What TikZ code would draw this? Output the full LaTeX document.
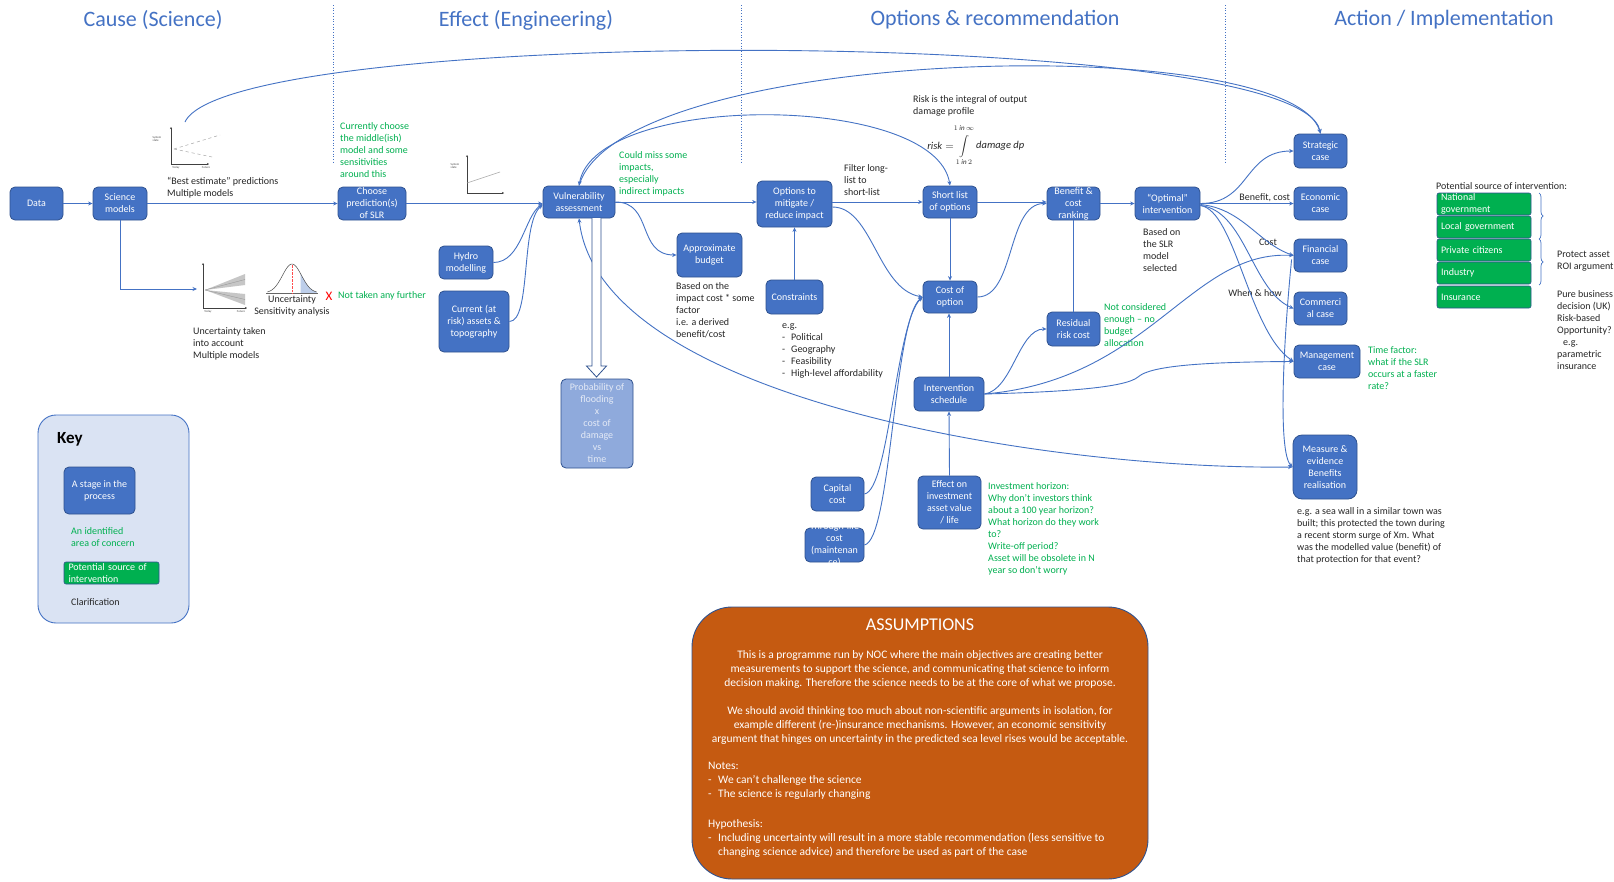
\documentclass[tikz,border=0pt]{standalone}
\usepackage{fontspec}
\setmainfont{Carlito}
\usetikzlibrary{arrows.meta,calc,decorations.pathreplacing}
\definecolor{blu}{HTML}{4472C4}
\definecolor{bord}{HTML}{2F528F}
\definecolor{grn}{HTML}{00B050}
\definecolor{txt}{HTML}{262626}
\definecolor{lblu}{HTML}{8FAADC}
\definecolor{keybg}{HTML}{DAE3F3}
\definecolor{orng}{HTML}{C55A11}
\definecolor{paletxt}{HTML}{E4EAF6}
\newcommand{\dashitem}{\makebox[9pt][l]{-}}
\newcommand{\asitem}{\makebox[10pt][l]{-}}
\tikzset{
  norm/.style={font=\fontsize{10}{12}\selectfont},
  box/.style={norm, draw=bord, fill=blu, text=white, rounded corners=5pt, line width=0.8pt, align=center, inner sep=0pt},
  probbox/.style={box, fill=lblu, text=paletxt},
  gbox/.style={draw=bord, fill=grn, rounded corners=2pt, line width=0.6pt, inner sep=0pt, minimum width=94pt, minimum height=22pt},
  gtext/.style={norm, text=white, align=left, text width=86pt, inner sep=0pt},
  btext/.style={norm, text=white, align=center, inner sep=0pt},
  note/.style={norm, text=txt, align=left, anchor=north west, inner sep=0pt},
  gnote/.style={note, text=grn},
  con/.style={draw=blu, line width=0.9pt},
  arr/.style={con, -{Stealth[length=4.5pt,width=4pt]}},
  arrb/.style={con, {Stealth[length=4.5pt,width=4pt]}-{Stealth[length=4.5pt,width=4pt]}},
  head/.style={font=\fontsize{22}{26}\selectfont, text=blu, inner sep=0pt},
  divider/.style={draw=blu, dotted, line width=0.7pt},
  axis/.style={draw=black!75, line width=0.5pt, -{Stealth[length=2pt,width=2pt]}},
  tinytxt/.style={font=\fontsize{3}{3.5}\selectfont, inner sep=0pt, text=black!70, align=left},
  astext/.style={font=\fontsize{11.5}{14}\selectfont, text=white, inner sep=0pt},
  mathtxt/.style={text=txt, inner sep=0pt, font=\fontsize{10.5}{12}\selectfont},
  limtxt/.style={text=txt, inner sep=0pt, font=\fontsize{7}{8}\selectfont},
}
\begin{document}
\begin{tikzpicture}[x=1pt,y=-1pt]
\fill[white] (0,0) rectangle (1614,881);
\useasboundingbox (0,0) rectangle (1614,881);

% headers and dividers
\node[head] (h1) at (153,20) {Cause (Science)};
\node[head] (h2) at (526,20) {Effect (Engineering)};
\node[head] (h3) at (995,20) {Options \& recommendation};
\node[head] (h4) at (1444,20) {Action / Implementation};
\draw[divider] (333,5) -- (333,163);
\draw[divider] (741,5) -- (741,163);
\draw[divider] (1225,5) -- (1225,163);

% ---------- process boxes ----------
\node[box, minimum width=53pt, minimum height=33pt] (data) at (36.5,203.5) {Data};
\node[box, minimum width=54pt, minimum height=33pt] (sci) at (120,203.5) {Science\\models};
\node[box, minimum width=68pt, minimum height=33pt] (choose) at (372,203.5) {};
\node[btext] (choose-t) at (choose) {Choose\\prediction(s)\\of SLR};
\node[box, minimum width=72pt, minimum height=32pt] (vuln) at (579,202) {Vulnerability\\assessment};
\node[box, minimum width=54pt, minimum height=33pt] (hydro) at (466,262.5) {Hydro\\modelling};
\node[box, minimum width=70pt, minimum height=61pt] (assets) at (474,321.5) {Current (at\\risk) assets \&\\topography};
\node[box, minimum width=65pt, minimum height=44pt] (budget) at (709.5,255) {Approximate\\budget};
\node[box, minimum width=75pt, minimum height=46pt] (options) at (794.5,204) {Options to\\mitigate /\\reduce impact};
\node[box, minimum width=57pt, minimum height=34pt] (constr) at (794.5,297) {Constraints};
\node[probbox, minimum width=72pt, minimum height=89pt] (prob) at (597,423.5) {Probability of\\flooding\\x\\cost of\\damage\\vs\\time};
\node[box, minimum width=54pt, minimum height=32pt] (short) at (950,202) {Short list\\of options};
\node[box, minimum width=54pt, minimum height=32pt] (cost) at (950,297) {Cost of\\option};
\node[box, minimum width=53pt, minimum height=33pt] (bcr) at (1073.5,203.5) {};
\node[btext] (bcr-t) at (bcr) {Benefit \&\\cost\\ranking};
\node[box, minimum width=65pt, minimum height=33pt] (optimal) at (1167.5,203.5) {“Optimal”\\intervention};
\node[box, minimum width=53pt, minimum height=34pt] (resid) at (1073.5,329) {Residual\\risk cost};
\node[box, minimum width=70pt, minimum height=34pt] (sched) at (949,394) {Intervention\\schedule};
\node[box, minimum width=53pt, minimum height=34pt] (capital) at (837.5,494) {Capital\\cost};
\node[box, minimum width=59pt, minimum height=34pt] (tlc) at (834.5,545) {};
\node[btext] (tlc-t) at (tlc) {Through-life\\cost\\(maintenan\\ce)};
\node[box, minimum width=63pt, minimum height=53pt] (effect) at (949.5,502.5) {Effect on\\investment\\asset value\\/ life};
\node[box, minimum width=53pt, minimum height=34pt] (strat) at (1320.5,151) {Strategic\\case};
\node[box, minimum width=53pt, minimum height=33pt] (econ) at (1320.5,203.5) {Economic\\case};
\node[box, minimum width=53pt, minimum height=33pt] (fin) at (1320.5,255.5) {Financial\\case};
\node[box, minimum width=53pt, minimum height=33pt] (comm) at (1320.5,308.5) {Commerci\\al case};
\node[box, minimum width=66pt, minimum height=33pt] (mgmt) at (1327,361.5) {Management\\case};
\node[box, minimum width=64pt, minimum height=64pt, rounded corners=9pt] (measure) at (1325,467) {Measure \&\\evidence\\Benefits\\realisation};

% green sources
\node[gbox] (nat) at (1484,204) {};
\node[gtext] (nat-t) at (nat) {National\\government};
\node[gbox] (local) at (1484,227) {};
\node[gtext] (local-t) at (local) {Local government};
\node[gbox] (priv) at (1484,250) {};
\node[gtext] (priv-t) at (priv) {Private citizens};
\node[gbox] (ind) at (1484,273) {};
\node[gtext] (ind-t) at (ind) {Industry};
\node[gbox] (ins) at (1484,297) {};
\node[gtext] (ins-t) at (ins) {Insurance};
\draw[blu, line width=0.7pt, decorate, decoration={brace, amplitude=4pt}] (1539,193) -- (1539,239);
\draw[blu, line width=0.7pt, decorate, decoration={brace, amplitude=4pt}] (1539,239) -- (1539,285);

% ---------- mini charts ----------
% chart 1
\draw[axis] (171,164) -- (171,127);
\draw[axis] (171,164) -- (209,164);
\draw[gray!70, dashed, line width=0.5pt] (174,149) -- (220,135);
\draw[gray!70, dashed, line width=0.5pt] (174,149) -- (212,157);
\node[tinytxt] (c1a) at (157,139) {System\\state};
\node[tinytxt] (c1b) at (176,168) {Today};
\node[tinytxt] (c1c) at (206,168) {Future};
\coordinate (c1top) at (185,122);
% chart 2
\draw[axis] (203,308) -- (203,263);
\draw[axis] (203,308) -- (247,308);
\fill[gray!45] (205,290) -- (245,274) -- (245,285) -- cycle;
\fill[gray!45] (205,290) -- (245,294) -- (245,305) -- cycle;
\draw[gray!80, line width=0.4pt] (205,290) -- (245,279.5);
\draw[gray!80, line width=0.4pt] (205,290) -- (245,299.5);
\node[tinytxt] (c2b) at (208,312) {Today};
\node[tinytxt] (c2c) at (241,312) {Future};
\coordinate (uncin) at (197,289);
% bell curve
\fill[blu!35] plot[domain=0.9:2.6, samples=20] ({292+\x*9.5}, {293-29*exp(-0.5*(\x)*(\x))}) -- (316.7,293) -- (300.55,293) -- cycle;
\draw[black!70, line width=0.5pt] plot[domain=-2.6:2.6, samples=50] ({292+\x*9.5}, {293-29*exp(-0.5*(\x)*(\x))});
\draw[black!60, line width=0.4pt] (266,293) -- (318,293);
\draw[red!70, densely dotted, line width=0.4pt] (292,293) -- (292,264);
% chart 3
\draw[axis] (467,193) -- (467,155);
\draw[axis] (467,193) -- (504,193);
\draw[gray!70, line width=0.6pt] (467,183) -- (500,172);
\node[tinytxt] (c3a) at (455,166) {System\\state};

% ---------- texts ----------
\node[note] (t-best) at (167,177) {“Best estimate” predictions\\Multiple models};
\node[note] (t-unc) at (193,327) {Uncertainty taken\\into account\\Multiple models};
\node[norm, text=txt, align=center, anchor=north, inner sep=0pt] (t-sens) at (292,295) {Uncertainty\\Sensitivity analysis};
\node[text=red, font=\fontsize{13}{14}\selectfont, inner sep=0pt] (t-x) at (329,296) {X};
\node[gnote] (t-ntaf) at (338,291) {Not taken any further};
\node[gnote] (t-curr) at (340,122) {Currently choose\\the middle(ish)\\model and some\\sensitivities\\around this};
\node[gnote] (t-miss) at (619,151) {Could miss some\\impacts,\\especially\\indirect impacts};
\node[note] (t-budget) at (676,282) {Based on the\\impact cost * some\\factor\\i.e. a derived\\benefit/cost};
\node[note] (t-eg) at (782,323) {e.g.\\\dashitem Political\\\dashitem Geography\\\dashitem Feasibility\\\dashitem High-level affordability};
\node[note] (t-filter) at (844,164) {Filter long-\\list to\\short-list};
\node[note] (t-risk) at (913,95) {Risk is the integral of output\\damage profile};
% formula
\node[mathtxt, anchor=east] (f-risk) at (954,146) {$\mathit{risk} =$};
\node[mathtxt, font=\fontsize{9.5}{11}\selectfont] (f-int) at (964,146.5) {$\displaystyle\int$};
\node[limtxt] (f-up) at (964,128.5) {$1\ \mathit{in}\ \infty$};
\node[limtxt] (f-low) at (964,162.5) {$1\ \mathit{in}\ 2$};
\node[mathtxt, anchor=west] (f-dmg) at (976,146) {$\mathit{damage}\ \mathit{dp}$};
\node[note] (t-slr) at (1143,228) {Based on\\the SLR\\model\\selected};
\node[gnote] (t-notcons) at (1104,303) {Not considered\\enough – no\\budget\\allocation};
\node[norm, text=txt, inner sep=0pt] (t-cost) at (1268,242) {Cost};
\node[norm, text=txt, inner sep=0pt] (t-when) at (1255,293) {When \& how};
\node[gnote] (t-time) at (1368,346) {Time factor:\\what if the SLR\\occurs at a faster\\rate?};
\node[note] (t-pot) at (1436,182) {Potential source of intervention:};
\node[note] (t-protect) at (1557,251) {Protect asset\\ROI argument};
\node[note] (t-pure) at (1557,290) {Pure business\\decision (UK)\\Risk-based\\Opportunity?\\\makebox[6pt]{}e.g.\\parametric\\insurance};
\node[note] (t-seawall) at (1297,507) {e.g. a sea wall in a similar town was\\built; this protected the town during\\a recent storm surge of Xm. What\\was the modelled value (benefit) of\\that protection for that event?};
\node[gnote] (t-horizon) at (988,482) {Investment horizon:\\Why don’t investors think\\about a 100 year horizon?\\What horizon do they work\\to?\\Write-off period?\\Asset will be obsolete in N\\year so don’t worry};

% ---------- connectors ----------
\draw[arr] (data.east) -- (sci.west);
\draw[arr] (sci.east) -- (choose.west);
\draw[arr] (sci.south) |- (uncin);
\draw[arr] (choose.east) -- (choose.east -| vuln.west);
\draw[arr] (hydro.east) .. controls +(28,0) and +(-18,12) .. ($(vuln.west)+(0,2)$);
\draw[arr] (assets.east) .. controls +(22,0) and +(-22,18) .. ($(vuln.west)+(0,3)$);
\draw[arr] (c1top) .. controls (230,25) and (1300,25) .. (strat.north);
\draw[arr] (vuln.north) .. controls (620,45) and (1290,30) .. (strat.north);
\draw[arrb] (vuln.north) .. controls (595,92) and (935,92) .. (short.north);
\draw[arr] (vuln.east) -- (vuln.east -| options.west);
\draw[arr] (vuln.east) .. controls +(38,0) and +(-40,0) .. (budget.west);
\draw[arr] (options.east |- short.west) -- (short.west);
\draw[arr] ($(options.east)+(0,3)$) .. controls +(40,0) and +(-45,-8) .. (cost.west);
\draw[arr] (constr.north) -- (options.south);
\draw[arr] (short.south) -- (cost.north);
\draw[arr] (short.east) -- (short.east -| bcr.west);
\draw[arr] (cost.east) .. controls +(38,0) and +(-40,0) .. (bcr.west);
\draw[arr] (bcr.east) -- (optimal.west);
\draw[con] (bcr.south) -- (resid.north);
\draw[arr] (sched.north) -- (sched.north |- cost.south);
\draw[arr] (effect.north) -- (sched.south);
\draw[arr] (capital.east) .. controls +(25,-4) and +(-27,25) .. (cost.west);
\draw[arr] (tlc.east) .. controls +(27,-5) and +(-29,22) .. (cost.west);
\draw[arr] (sched.east) .. controls +(28,-4) and +(-28,0) .. (resid.west);
\draw[arr] (sched.east) .. controls (1150,380) and (1190,250) .. (fin.west);
\coordinate (bump) at (1138,377);
\draw[arr] (sched.east) .. controls (1060,392) and (1125,388) .. (bump) .. controls (1150,366) and (1200,362) .. (mgmt.west);
\draw[arr] (optimal.east) .. controls +(50,0) and +(-50,0) .. (strat.west);
\draw[arr] (optimal.east) -- node[norm, text=txt, above, inner sep=1.5pt, pos=0.69] (t-bc) {Benefit, cost} (econ.west);
\draw[arr] ($(optimal.east)+(0,1)$) .. controls +(42,4) and +(-35,-12) .. (fin.west);
\draw[arr] ($(optimal.east)+(0,2)$) .. controls +(45,5) and +(-42,-18) .. (comm.west);
\draw[arr] ($(optimal.east)+(0,2)$) .. controls +(35,5) and +(-45,-30) .. (mgmt.west);
\draw[arr] ($(fin.west)+(-2,4)$) .. controls +(-8,80) and +(-15,-15) .. (measure.west);
\draw[arrb] (measure.west) .. controls (1050,470) and (600,400) .. (vuln.south);
% hollow block arrow vuln -> prob
\draw[draw=bord, fill=white, line width=0.8pt] (592,218) -- (592,366) -- (586.5,366) -- (596.5,377) -- (606.5,366) -- (601,366) -- (601,218);

% ---------- key ----------
\node[draw=blu, fill=keybg, rounded corners=18pt, line width=0.9pt, minimum width=151pt, minimum height=208pt, inner sep=0pt] (keybox) at (113.5,519) {};
\node[font=\fontsize{17}{20}\selectfont\bfseries, anchor=west, inner sep=0pt] (keytitle) at (57,439) {Key};
\node[box, minimum width=71pt, minimum height=47pt] (keystage) at (99.5,490.5) {A stage in the\\process};
\node[gnote] (keyconcern) at (71,527) {An identified\\area of concern};
\node[gbox, minimum width=95pt] (keygreen) at (111.5,573) {};
\node[gtext] (keygreen-t) at (keygreen) {Potential source of\\intervention};
\node[note] (keyclar) at (71,598) {Clarification};

% ---------- assumptions ----------
\node[draw=bord, fill=orng, rounded corners=40pt, line width=0.9pt, minimum width=456pt, minimum height=272pt, inner sep=0pt] (assume) at (920,743) {};
\node[font=\fontsize{18}{20}\selectfont, text=white, inner sep=0pt] (assume-title) at (920,625) {ASSUMPTIONS};
\node[astext, align=center, anchor=north] (assume-p1) at (920,650) {This is a programme run by NOC where the main objectives are creating better\\measurements to support the science, and communicating that science to inform\\decision making. Therefore the science needs to be at the core of what we propose.};
\node[astext, align=center, anchor=north] (assume-p2) at (920,706) {We should avoid thinking too much about non-scientific arguments in isolation, for\\example different (re-)insurance mechanisms. However, an economic sensitivity\\argument that hinges on uncertainty in the predicted sea level rises would be acceptable.};
\node[astext, align=left, anchor=north west] (assume-n) at (708,762) {Notes:\\\asitem We can’t challenge the science\\\asitem The science is regularly changing};
\node[astext, align=left, anchor=north west] (assume-h) at (708,819) {Hypothesis:\\\asitem Including uncertainty will result in a more stable recommendation (less sensitive to\\\makebox[10pt]{}changing science advice) and therefore be used as part of the case};
\end{tikzpicture}
\end{document}
